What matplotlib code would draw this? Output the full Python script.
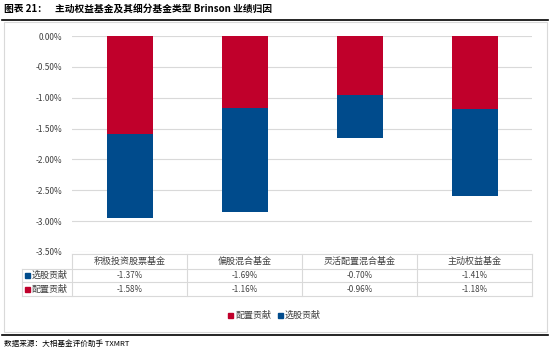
import numpy as np
import matplotlib.pyplot as plt
from matplotlib.patches import Rectangle

plt.rcParams['font.family'] = ['Noto Sans CJK SC', 'DejaVu Sans']

# ---------------------------------数据-------------------------------------
categorias = ['积极投资股票基金', '偏股混合基金', '灵活配置混合基金', '主动权益基金']
selecao = [-1.37, -1.69, -0.70, -1.41]   # 选股贡献 [%]
alocacao = [-1.58, -1.16, -0.96, -1.18]  # 配置贡献 [%]
yticks = [0.0, -0.5, -1.0, -1.5, -2.0, -2.5, -3.0, -3.5]

cor_vermelho = '#C0002B'
cor_azul = '#004B8C'
cor_grade = '#D9D9D9'
cor_texto = '#404040'

W, H = 550, 352
fig = plt.figure(figsize=(W / 100, H / 100), dpi=100)

# camada de fundo em pixels (moldura, título, tabela)
fundo = fig.add_axes([0, 0, 1, 1])
fundo.set_xlim(0, W)
fundo.set_ylim(H, 0)
fundo.axis('off')

fundo.text(4, 9, '图表 21：', fontsize=7, fontweight='bold', va='center', ha='left')
fundo.text(55, 9, '主动权益基金及其细分基金类型 Brinson 业绩归因', fontsize=7,
           fontweight='bold', va='center', ha='left')
fundo.plot([2, 548], [20, 20], color='black', lw=1.2)
fundo.add_patch(Rectangle((4, 22), 543, 310, fill=False, ec=cor_grade, lw=0.8))
fundo.plot([2, 548], [335, 335], color='black', lw=1.2)
fundo.text(4, 344, '数据来源：大相基金评价助手 TXMRT', fontsize=5.5, va='center', ha='left')

# ---------------------------------gráfico-------------------------------------
x0, x1, y0, y1 = 72, 532, 36, 252
ax = fig.add_axes([x0 / W, 1 - y1 / H, (x1 - x0) / W, (y1 - y0) / H])
x = np.arange(len(categorias))
ax.bar(x, alocacao, width=0.4, color=cor_vermelho, zorder=3)
ax.bar(x, selecao, bottom=alocacao, width=0.4, color=cor_azul, zorder=3)
ax.set_xlim(-0.5, len(categorias) - 0.5)
ax.set_ylim(-3.5, 0)
ax.set_yticks(yticks)
ax.set_yticklabels([f'{v:.2f}%' for v in yticks], fontsize=6, color=cor_texto)
ax.tick_params(axis='y', length=0, pad=7)
ax.set_xticks([])
ax.grid(axis='y', color=cor_grade, lw=0.8, zorder=0)
for s in ax.spines.values():
    s.set_visible(False)

# ---------------------------------tabela-------------------------------------
larg = (x1 - x0) / len(categorias)
bordas = [x0 + i * larg for i in range(len(categorias) + 1)]
linhas_y = [254, 269, 282, 296]
lab_x = 22
kw = dict(color=cor_grade, lw=0.8)
fundo.plot([x0, x1], [linhas_y[0]] * 2, **kw)
for yy in linhas_y[1:]:
    fundo.plot([lab_x, x1], [yy, yy], **kw)
fundo.plot([lab_x, lab_x], [linhas_y[1], linhas_y[3]], **kw)
for bx in bordas:
    fundo.plot([bx, bx], [linhas_y[0], linhas_y[3]], **kw)

for i, nome in enumerate(categorias):
    cx = bordas[i] + larg / 2
    fundo.text(cx, (linhas_y[0] + linhas_y[1]) / 2, nome, fontsize=6.5,
               color=cor_texto, ha='center', va='center')
    fundo.text(cx, (linhas_y[1] + linhas_y[2]) / 2, f'{selecao[i]:.2f}%', fontsize=5.8,
               color=cor_texto, ha='center', va='center')
    fundo.text(cx, (linhas_y[2] + linhas_y[3]) / 2, f'{alocacao[i]:.2f}%', fontsize=5.8,
               color=cor_texto, ha='center', va='center')

for j, (rotulo, cor) in enumerate([('选股贡献', cor_azul), ('配置贡献', cor_vermelho)]):
    cy = (linhas_y[j + 1] + linhas_y[j + 2]) / 2
    fundo.add_patch(Rectangle((lab_x + 3, cy - 2.5), 5, 5, color=cor))
    fundo.text(lab_x + 10, cy, rotulo, fontsize=6.5, color=cor_texto, ha='left', va='center')

# ---------------------------------legenda-------------------------------------
leg = [('配置贡献', cor_vermelho, 228), ('选股贡献', cor_azul, 278)]
for rotulo, cor, lx in leg:
    fundo.add_patch(Rectangle((lx, 313), 5, 5, color=cor))
    fundo.text(lx + 7, 315.5, rotulo, fontsize=6.5, color=cor_texto, ha='left', va='center')

fig.savefig('out.png', dpi=100)
